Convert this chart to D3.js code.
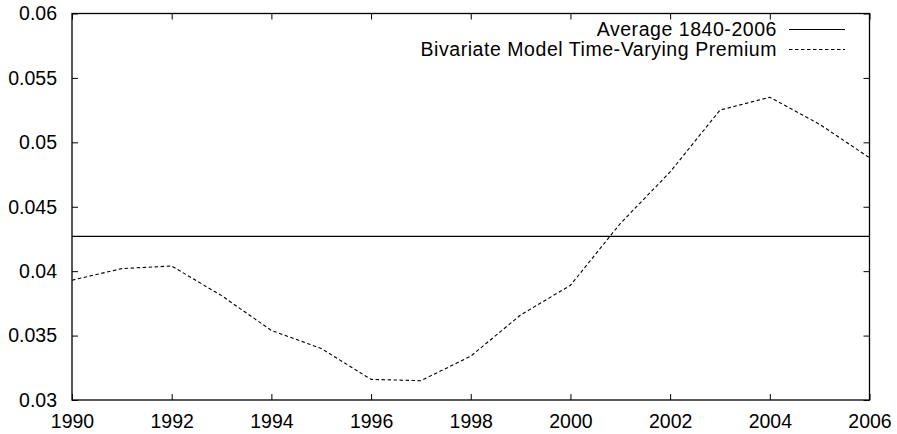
<!DOCTYPE html>
<html>
<head>
	<meta charset="utf-8">
	<script src="https://d3js.org/d3.v7.min.js"></script>
	<style>
		body { margin: 0; background: #fff; }
		svg text { font-family: "Liberation Sans", Arial, Helvetica, sans-serif; fill: #000; }
		.frame { fill: none; stroke: #000; stroke-width: 1.3; }
		.tick line { stroke: #000; stroke-width: 1; }
		.avg { stroke: #000; stroke-width: 1.1; fill: none; }
		.prem { stroke: #000; stroke-width: 1.1; fill: none; stroke-dasharray: 3.5,2.5; }
	</style>
</head>
<body>
	<svg width="897" height="434"></svg>
	<script>
		// values
		var years = [1990, 1991, 1992, 1993, 1994, 1995, 1996, 1997, 1998,
			1999, 2000, 2001, 2002, 2003, 2004, 2005, 2006];
		var premium = [0.0393, 0.0402, 0.0404, 0.0381, 0.0354, 0.0340, 0.0316, 0.0315, 0.0334,
			0.0366, 0.0389, 0.0437, 0.0477, 0.0525, 0.0535, 0.0514, 0.0488];
		var average = 0.0427;
		var xTicks = [1990, 1992, 1994, 1996, 1998, 2000, 2002, 2004, 2006];
		var yTicks = [0.03, 0.035, 0.04, 0.045, 0.05, 0.055, 0.06];
		var legendLabels = ["Average 1840-2006", "Bivariate Model Time-Varying Premium"];

		var svg = d3.select("svg"),
		margin = {top: 13.5, right: 27.5, bottom: 34, left: 72},
		width = +svg.attr("width") - margin.left - margin.right,
		height = +svg.attr("height") - margin.top - margin.bottom;

		var x = d3.scaleLinear().domain([1990, 2006]).range([0, width]),
		y = d3.scaleLinear().domain([0.03, 0.06]).range([height, 0]);

		var g = svg.append("g")
		.attr("transform", "translate(" + margin.left + "," + margin.top + ")");

		var tick = 6;

		function clean(a) {
			a.select(".domain").remove();
			a.attr("font-family", null).attr("font-size", null);
		}

		// bottom / top ticks
		g.append("g")
		.attr("transform", "translate(0," + height + ")")
		.call(d3.axisBottom(x).tickValues(xTicks).tickFormat(d3.format("d")).tickSize(-tick).tickPadding(14))
		.call(clean);

		g.append("g")
		.call(d3.axisTop(x).tickValues(xTicks).tickFormat("").tickSize(-tick))
		.call(clean);

		// left / right ticks
		g.append("g")
		.call(d3.axisLeft(y).tickValues(yTicks).tickFormat(function(d) { return String(+d.toFixed(3)); }).tickSize(-tick).tickPadding(15))
		.call(clean);

		g.append("g")
		.attr("transform", "translate(" + width + ",0)")
		.call(d3.axisRight(y).tickValues(yTicks).tickFormat("").tickSize(-tick))
		.call(clean);

		g.selectAll(".tick text").style("font-size", "19.5px");

		g.append("rect")
		.attr("class", "frame")
		.attr("width", width)
		.attr("height", height);

		// average line
		g.append("line")
		.attr("class", "avg")
		.attr("x1", x(1990)).attr("x2", x(2006))
		.attr("y1", y(average)).attr("y2", y(average));

		// time-varying premium
		var line = d3.line()
		.x(function(d, i) { return x(years[i]); })
		.y(function(d) { return y(d); });

		g.append("path")
		.datum(premium)
		.attr("class", "prem")
		.attr("d", line);

		// legend
		var legend = svg.append("g");
		var rows = [29.5, 49.5];
		legendLabels.forEach(function(t, i) {
			legend.append("text")
			.attr("x", 777)
			.attr("y", rows[i])
			.attr("dy", "0.35em")
			.attr("text-anchor", "end")
			.style("font-size", "19.5px")
			.style("letter-spacing", "0.55px")
			.text(t);
			legend.append("line")
			.attr("class", i === 0 ? "avg" : "prem")
			.attr("x1", 789).attr("x2", 845)
			.attr("y1", rows[i]).attr("y2", rows[i]);
		});
	</script>
</body>
</html>
